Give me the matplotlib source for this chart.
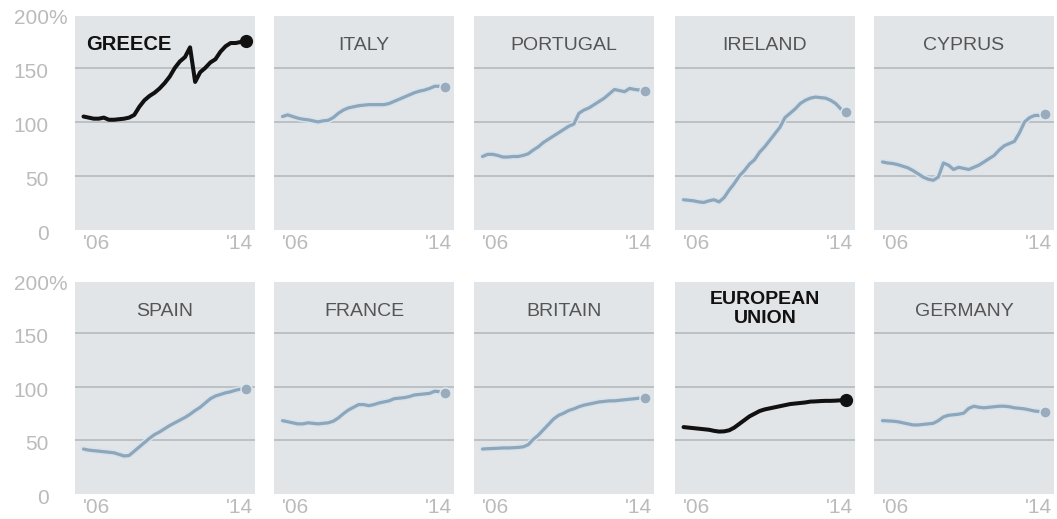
import numpy as np
import matplotlib.pyplot as plt
import matplotlib.patheffects as pe

plt.rcParams['font.family'] = ['Liberation Sans', 'DejaVu Sans']

# Deuda publica en % del PIB, trimestral 2006T1 - 2014T1
anios = 2006 + np.arange(33) / 4

greece = [105, 104, 103, 103, 104, 102, 102, 102.5, 103, 104, 106.5, 114, 120, 124, 127, 131,
          136, 142, 150, 156, 160, 169, 137, 146, 150, 155, 158, 165, 170, 173, 173, 174, 175]
italy = [105, 106.5, 105, 103.5, 102.5, 102, 101, 100, 101, 101.5, 104, 108, 111, 113, 114, 115,
         115.5, 116, 116, 116, 116, 117, 119, 121, 123, 125, 127, 128.5, 129.5, 131, 133, 133, 132]
portugal = [68, 70, 70, 69, 67.5, 67.5, 68, 68, 69, 70.5, 74, 77, 81, 84, 87, 90,
            93, 96, 98, 108, 111, 113, 116, 119, 122, 126, 130, 129, 128, 131, 130, 129.5, 129]
ireland = [28, 27.5, 27, 26, 25.5, 27, 28, 26, 30, 37, 43, 50, 55, 61, 65, 72,
           77, 83, 89, 95, 104, 108, 112, 117, 120, 122, 123, 122.5, 122, 120, 117, 112, 109.5]
cyprus = [63, 62, 61.5, 60.5, 59, 57.5, 55, 52, 49, 47, 46, 49, 62, 60, 56, 58,
          57, 56, 58, 60, 63, 66, 69, 74, 78, 80, 82, 90, 100, 104, 106, 106, 107.5]
spain = [42, 41, 40.5, 40, 39.5, 39, 38.5, 37, 35.5, 36, 40, 44, 48, 52, 55.5, 58,
         61, 64, 66.5, 69, 71.5, 74.5, 78, 81, 85, 89, 91.5, 93, 94.5, 95.5, 97, 98, 98]
france = [68.5, 67.5, 66.5, 65.5, 65.5, 66.5, 66, 65.5, 66, 66.5, 68, 71, 75, 78.5, 81, 83.5,
          83.5, 82.5, 83.5, 85, 86, 87, 89, 89.5, 90, 91, 92.5, 93, 93.5, 94, 96, 95.5, 94.5]
britain = [42, 42.3, 42.5, 42.7, 43, 43, 43.2, 43.5, 44, 46, 51, 55, 60, 65, 70, 73.5,
           75.5, 78, 79.5, 81.5, 83, 84, 85, 86, 86.5, 87, 87, 87.5, 88, 88.5, 89, 89.5, 90]
eu = [62.5, 62, 61.5, 61, 60.5, 60, 59, 58.3, 58.5, 59.5, 62, 65.5, 69, 72.5, 75, 77.5,
      79, 80, 81, 82, 83, 84, 84.5, 85, 85.5, 86.3, 86.5, 86.8, 87, 87, 87.2, 87.5, 88]
germany = [68.5, 68.3, 68, 67.5, 66.5, 65.5, 64.5, 64.5, 65, 65.5, 66, 68.5, 72, 73.5, 74, 74.5,
           75.5, 80, 82, 81, 80.5, 81, 81.5, 82, 82, 81.5, 80.5, 80, 79.5, 78.5, 77.5, 77, 76.5]

paises = ['GREECE', 'ITALY', 'PORTUGAL', 'IRELAND', 'CYPRUS',
          'SPAIN', 'FRANCE', 'BRITAIN', 'EUROPEAN\nUNION', 'GERMANY']
series = [greece, italy, portugal, ireland, cyprus, spain, france, britain, eu, germany]
destacados = ['GREECE', 'EUROPEAN\nUNION']

W, H = 1057, 519
fig = plt.figure(figsize=(W / 100, H / 100), dpi=100)
fig.patch.set_facecolor('white')

izq = [75, 274, 474, 675, 874]
filas = [(16, 230), (282, 494)]  # top, bottom en pixeles

fondo = '#e2e5e8'
gris_grid = '#b5babf'
azul = '#8ea6ba'
gris_tick = '#bbbbbb'

for k, (pais, datos) in enumerate(zip(paises, series)):
    fila, col = divmod(k, 5)
    top, bot = filas[fila]
    ax = fig.add_axes([izq[col] / W, (H - bot) / H, 180 / W, (bot - top) / H])
    ax.set_facecolor(fondo)
    for s in ax.spines.values():
        s.set_visible(False)
    ax.set_xlim(2006 - 0.42, 2014 + 0.45)
    ax.set_ylim(0, 198)
    ax.set_xticks([])
    ax.set_yticks([])
    for g in [50, 100, 150]:
        ax.axhline(g, color=gris_grid, lw=1.2, zorder=1)

    if pais in destacados:
        ax.plot(anios, datos, color='#111111', lw=2.9, zorder=3, solid_capstyle='round')
        ax.plot(anios[-1], datos[-1], 'o', color='#111111', ms=8.5, zorder=4)
    else:
        ax.plot(anios, datos, color=azul, lw=2.3, zorder=3, solid_capstyle='round',
                path_effects=[pe.Stroke(linewidth=4.4, foreground='#d6e2ec'), pe.Normal()])
        ax.plot(anios[-1], datos[-1], 'o', color='#9aacbb', ms=8, mec='#dfe8f0', mew=1, zorder=4)

    # titulo del panel
    if pais == 'GREECE':
        ax.text(11 / 180, 1 - 29 / (bot - top), pais, transform=ax.transAxes, ha='left',
                va='center', fontsize=14.5, fontweight='bold', color='#111111')
    elif pais in destacados:
        ax.text(0.5, 1 - 27 / (bot - top), pais, transform=ax.transAxes, ha='center',
                va='center', fontsize=14, fontweight='bold', color='#111111', linespacing=1.1)
    else:
        ax.text(0.5, 1 - 29 / (bot - top), pais, transform=ax.transAxes, ha='center',
                va='center', fontsize=14, color='#555555')

    # etiquetas del eje x
    ax.annotate("'06", xy=(anios[0] - 0.05, 0), xycoords=('data', 'axes fraction'),
                xytext=(0, -10), textcoords='offset points', ha='left', va='center',
                fontsize=15, color=gris_tick)
    ax.annotate("'14", xy=(0.99, 0), xycoords='axes fraction',
                xytext=(0, -10), textcoords='offset points', ha='right', va='center',
                fontsize=15, color=gris_tick)

    # etiquetas del eje y solo en la primera columna
    if col == 0:
        for v in [0, 50, 100, 150, 200]:
            ax.annotate(str(v), xy=(0, v), xycoords=('axes fraction', 'data'),
                        xytext=(-19, -3), textcoords='offset points', ha='right',
                        va='center', fontsize=15, color=gris_tick, annotation_clip=False)
        ax.annotate('%', xy=(0, 200), xycoords=('axes fraction', 'data'),
                    xytext=(-19, -3), textcoords='offset points', ha='left',
                    va='center', fontsize=15, color=gris_tick, annotation_clip=False)

fig.savefig('out.png', dpi=100)
